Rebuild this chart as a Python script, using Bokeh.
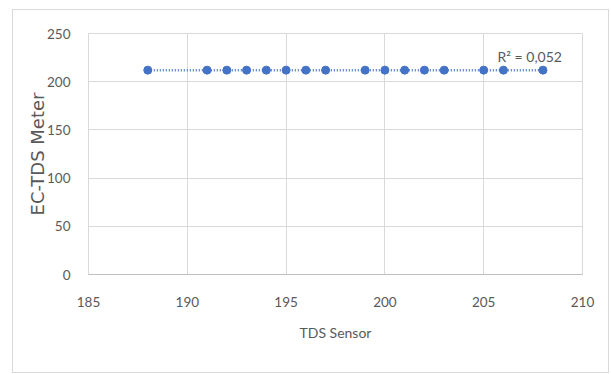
import numpy as np
from bokeh.plotting import figure
from bokeh.models import Range1d, FixedTicker, Label, InlineStyleSheet
from bokeh.embed import file_html
from bokeh.resources import INLINE

# data
tds_sensor = [188, 191, 192, 193, 194, 195, 196, 197, 199, 200, 201, 202, 203, 205, 206, 208]
ec_tds_meter = [212, 212, 212, 212, 212, 212, 212, 212, 212, 212, 212, 212, 212, 212, 212, 212]
x_ticks = [185, 190, 195, 200, 205, 210]
y_ticks = [0, 50, 100, 150, 200, 250]
r2_label = "R² = 0,052"
x_title = "TDS Sensor"
y_title = "EC-TDS Meter"

FONT = "Lato"
GRAY = "#595959"
BLUE = "#4472C4"

p = figure(width=611, height=374, output_backend="svg", toolbar_location=None,
           x_range=Range1d(185, 210), y_range=Range1d(0, 250))
p.min_border_left = 88
p.min_border_right = 29
p.min_border_top = 33
p.min_border_bottom = 100
p.background_fill_color = "white"
p.border_fill_color = "white"
p.outline_line_color = "#d9d9d9"

# axes
p.xaxis.ticker = FixedTicker(ticks=x_ticks)
p.yaxis.ticker = FixedTicker(ticks=y_ticks)
for ax in (p.xaxis[0], p.yaxis[0]):
    ax.major_tick_line_color = None
    ax.minor_tick_line_color = None
    ax.major_label_text_font = FONT
    ax.major_label_text_font_size = "13.5px"
    ax.major_label_text_color = GRAY
    ax.axis_label_text_color = GRAY
    ax.axis_label_text_font_style = "normal"
p.xaxis.axis_line_color = "#bfbfbf"
p.yaxis.axis_line_color = None
p.xaxis.major_label_standoff = 16
p.yaxis.major_label_standoff = 12
p.xaxis.axis_label = x_title
p.xaxis.axis_label_text_font = FONT
p.xaxis.axis_label_text_font_size = "14px"
p.xaxis.axis_label_standoff = 14
p.yaxis.axis_label = y_title
p.yaxis.axis_label_text_font = "DejaVu Sans"
p.yaxis.axis_label_text_font_size = "18px"
p.yaxis.axis_label_standoff = -4

p.xgrid.ticker = FixedTicker(ticks=x_ticks)
p.ygrid.ticker = FixedTicker(ticks=y_ticks)
p.xgrid.grid_line_color = "#d9d9d9"
p.ygrid.grid_line_color = "#d9d9d9"

# linear trendline through the series
xa = np.array(tds_sensor, dtype=float)
ya = np.array(ec_tds_meter, dtype=float)
slope, intercept = np.polyfit(xa, ya, 1)
tx = [xa.min(), xa.max()]
ty = [slope * t + intercept for t in tx]
p.line(tx, ty, line_color=BLUE, line_width=2.5, line_dash="1 2")

p.scatter(tds_sensor, ec_tds_meter, size=8, fill_color=BLUE, line_color=BLUE)

p.add_layout(Label(x=205.7, y=226, text=r2_label, text_baseline="alphabetic",
                   text_font=FONT, text_font_size="14px", text_color=GRAY))

# outer chart border (CSS)
p.stylesheets = [InlineStyleSheet(css="""
:host { position: relative; }
:host::after { content: ''; position: absolute; left: 12px; top: 9px;
  width: 597px; height: 364px; border: 1px solid #d9d9d9;
  box-sizing: border-box; pointer-events: none; }
""")]

open("out.html", "w").write(file_html(p, INLINE))
